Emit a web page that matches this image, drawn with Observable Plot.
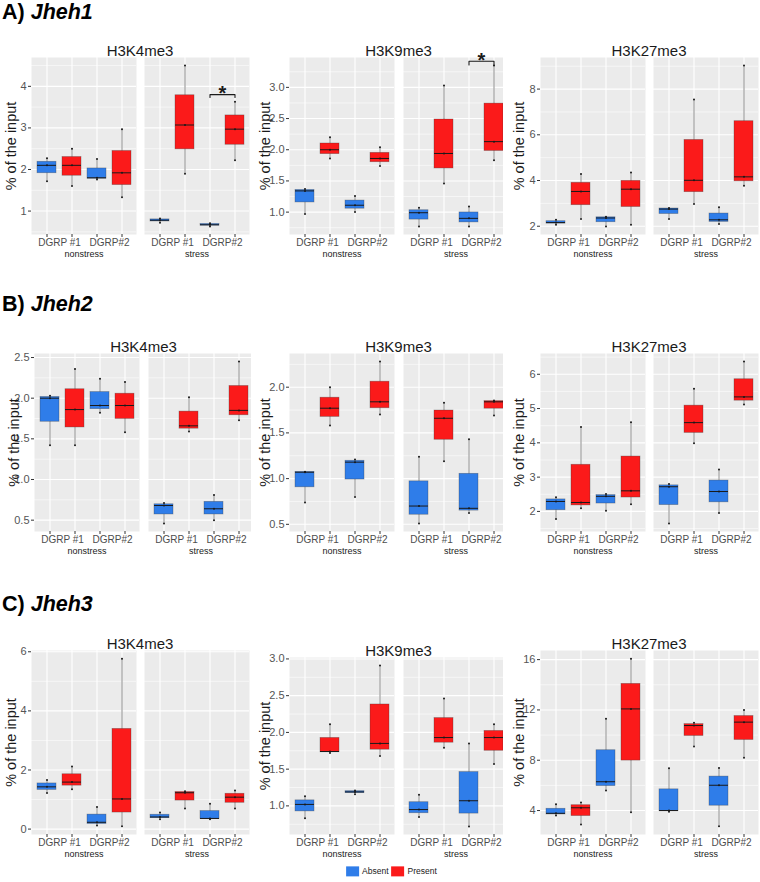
<!DOCTYPE html>
<html>
<head>
<meta charset="utf-8">
<script src="https://cdn.jsdelivr.net/npm/d3@7"></script>
<script src="https://cdn.jsdelivr.net/npm/@observablehq/plot@0.6"></script>
<style>
  body { margin: 0; background: #fff; }
  #root { position: relative; width: 760px; height: 882px; overflow: hidden; background: #fff;
          font-family: "Liberation Sans", Arial, sans-serif; }
  .rowtitle { font-weight: bold; font-size: 21.5px; color: #000; white-space: nowrap; line-height: 1; transform: translateY(-50%); }
  .ptitle { font-size: 15px; color: #1a1a1a; white-space: nowrap; line-height: 1; transform: translate(-50%, -50%); }
  #legend { transform: translate(-50%, -50%); }
  #legend * { font-family: "Liberation Sans", Arial, sans-serif !important; font-size: 8.5px !important; color: #1a1a1a; }
  #legend span { margin-right: 3px !important; }
  #legend svg { margin-right: 3px !important; }
</style>
</head>
<body>
<div id="root"></div>
<script>
// ---------------- data ----------------
const genes = ["Jheh1", "Jheh2", "Jheh3"];
const rowLetters = ["A)", "B)", "C)"];
const histoneMarks = ["H3K4me3", "H3K9me3", "H3K27me3"];
const conditions = ["nonstress", "stress"];
const genotypes = ["DGRP #1", "DGRP#2"];
const presence = ["Absent", "Present"];
const yAxisTitle = "% of the input";

// three replicate values per box; order per panel:
// nonstress [#1 Absent, #1 Present, #2 Absent, #2 Present], stress [same]
const jheh1_H3K4me3 = [[1.72,2.10,2.27],[1.60,2.10,2.50],[1.76,1.80,2.25],[1.33,1.92,2.97],
                       [0.72,0.78,0.82],[1.90,3.07,4.50],[0.63,0.67,0.71],[2.22,2.97,3.63]];
const jheh1_H3K9me3 = [[0.97,1.34,1.37],[1.86,2.00,2.20],[1.00,1.11,1.26],[1.74,1.86,2.04],
                       [0.77,0.99,1.07],[1.46,1.94,3.03],[0.77,0.90,1.09],[1.83,2.13,3.35]];
const jheh1_H3K27me3 = [[2.07,2.16,2.28],[2.32,3.52,4.28],[1.99,2.36,2.42],[2.06,3.62,4.35],
                        [2.32,2.75,2.80],[2.97,4.01,7.54],[2.10,2.28,2.83],[3.77,4.16,9.03]];
const jheh2_H3K4me3 = [[1.42,2.00,2.03],[1.42,1.86,2.36],[1.82,1.91,2.24],[1.58,1.91,2.20],
                       [0.46,0.68,0.71],[1.59,1.66,2.01],[0.50,0.64,0.81],[1.73,1.85,2.45]];
const jheh2_H3K9me3 = [[0.74,1.07,1.075],[1.58,1.77,2.00],[0.80,1.18,1.21],[1.70,1.84,2.28],
                       [0.51,0.70,1.24],[1.19,1.66,1.83],[0.625,0.675,1.43],[1.69,1.84,1.855]];
const jheh2_H3K27me3 = [[1.78,2.29,2.41],[2.09,2.26,4.46],[2.02,2.44,2.51],[2.21,2.60,4.60],
                        [1.65,2.72,2.80],[3.99,4.59,5.58],[1.95,2.58,3.22],[5.12,5.34,6.37]];
const jheh3_H3K4me3 = [[1.22,1.43,1.66],[1.35,1.59,2.12],[0.12,0.23,0.75],[0.10,1.02,5.76],
                       [0.33,0.41,0.56],[0.70,1.23,1.28],[0.33,0.36,0.86],[0.70,1.08,1.31]];
const jheh3_H3K9me3 = [[0.83,1.02,1.13],[1.72,1.74,2.11],[1.16,1.19,1.21],[1.68,1.85,2.91],
                       [0.85,0.95,1.15],[1.79,1.93,2.46],[0.72,1.07,1.85],[1.57,1.93,2.11]];
const jheh3_H3K27me3 = [[3.60,3.78,4.50],[2.90,4.22,4.63],[5.60,6.29,11.30],[3.86,12.08,16.06],
                        [3.90,4.00,7.37],[9.10,10.76,10.98],[2.76,6.01,7.39],[8.19,11.03,12.00]];

const ticksJheh1 = [[1,2,3,4],[1,1.5,2,2.5,3],[2,4,6,8]];
const ticksJheh2 = [[0.5,1,1.5,2,2.5],[0.5,1,1.5,2],[2,3,4,5,6]];
const ticksJheh3 = [[0,2,4,6],[1,1.5,2,2.5,3],[4,8,12,16]];

// significance annotations
const sigGene = ["Jheh1", "Jheh1"];
const sigMark = ["H3K4me3", "H3K9me3"];
const sigCondition = ["stress", "stress"];
const sigGenotype = ["DGRP#2", "DGRP#2"];
const sigBracketY = [3.80, 3.42];
const sigTickEndY = [3.73, 3.36];
const sigStarY = [3.95, 3.51];

// ---------------- layout / styles ----------------
const BLUE = "#2f7de9", RED = "#fb1a1a";
const panelValues = [[jheh1_H3K4me3, jheh1_H3K9me3, jheh1_H3K27me3],
                     [jheh2_H3K4me3, jheh2_H3K9me3, jheh2_H3K27me3],
                     [jheh3_H3K4me3, jheh3_H3K9me3, jheh3_H3K27me3]];
const panelTicks = [ticksJheh1, ticksJheh2, ticksJheh3];
const keys = genotypes.flatMap(g => presence.map(p => g + "|" + p));
const W = 105;
const STEP = W / 4.2;
const rowFrame = [[57, 234], [353, 531], [650, 834]];
const rowTitleY = [13, 305, 605];
const colLayout = [
  {svgLeft: 0, l1: 31, l2: 144, ylab: 20},
  {svgLeft: 251, l1: 289, l2: 403, ylab: 24},
  {svgLeft: 503, l1: 540, l2: 653, ylab: 21}
];
const MT = 14, MB = 32;
const FONT = '"Liberation Sans", Arial, sans-serif';

const root = document.getElementById("root");
function place(el, left, top) {
  el.style.position = "absolute";
  el.style.left = left + "px";
  el.style.top = top + "px";
  root.appendChild(el);
  return el;
}

const overlays = [];

genes.forEach((gene, r) => {
  const rt = document.createElement("div");
  rt.className = "rowtitle";
  rt.innerHTML = rowLetters[r] + " <i>" + gene + "</i>";
  overlays.push([rt, 2, rowTitleY[r]]);

  histoneMarks.forEach((hm, c) => {
    const vals = panelValues[r][c];
    const ticks = panelTicks[r][c];
    const [lo, hi] = d3.extent(vals.flat());
    const pad = (hi - lo) * 0.05;
    const domain = [lo - pad, hi + pad];
    const step = ticks[1] - ticks[0];
    const minor = d3.range(-1, ticks.length).map(i => ticks[0] + (i + 0.5) * step)
      .filter(v => v > domain[0] && v < domain[1]);
    const decimals = ticks.some(t => !Number.isInteger(t));
    const fmt = decimals ? (d => d.toFixed(1)) : (d => String(d));

    const lay = Object.assign({}, colLayout[c]);
    if (r === 1 && c === 0) { lay.l1 = 34; lay.l2 = 148; }
    let [top, bottom] = rowFrame[r];
    if (r === 2 && c === 1) top = 657;
    const fh = bottom - top;

    conditions.forEach((cond, f) => {
      const rows = [];
      vals.slice(f * 4, f * 4 + 4).forEach((trip, b) =>
        trip.forEach(v => rows.push({key: keys[b], presence: presence[b % 2], value: v})));
      const isLeft = f === 0;
      const marginLeft = isLeft ? lay.l1 - lay.svgLeft : 0;
      const marginRight = isLeft ? 0 : 6;
      const left = isLeft ? lay.svgLeft : lay.l2;

      const extra = [];
      sigGene.forEach((g, s) => {
        if (g === gene && sigMark[s] === hm && sigCondition[s] === cond) {
          const kA = sigGenotype[s] + "|" + presence[0];
          const kP = sigGenotype[s] + "|" + presence[1];
          const bracket = [
            {key: kA, y: sigTickEndY[s]}, {key: kA, y: sigBracketY[s]},
            {key: kP, y: sigBracketY[s]}, {key: kP, y: sigTickEndY[s]}
          ];
          extra.push(Plot.line(bracket, {x: "key", y: "y", stroke: "#1a1a1a", strokeWidth: 1.1}));
          extra.push(Plot.text([{key: kA, y: sigStarY[s]}], {
            x: "key", y: "y", text: () => "*", dx: STEP / 2, dy: 5,
            fontSize: 20, fontWeight: "bold", fill: "#1a1a1a"
          }));
        }
      });

      const marks = [
        Plot.frame({fill: "#ebebeb", stroke: "none"}),
        Plot.gridY(minor, {stroke: "white", strokeOpacity: 1, strokeWidth: 0.55}),
        Plot.gridY(ticks, {stroke: "white", strokeOpacity: 1, strokeWidth: 1.1}),
        Plot.gridX(keys, {stroke: "white", strokeOpacity: 1, strokeWidth: 1.1}),
        Plot.axisX(keys, {tickSize: 3, tickPadding: 0, tickFormat: () => "", stroke: "#333", label: null}),
        Plot.axisX([keys[0], keys[2]], {
          tickSize: 0, tickPadding: 4, dx: STEP / 2, fontSize: 10, fill: "#4d4d4d",
          tickFormat: k => k.split("|")[0], label: null
        }),
        Plot.text([cond], {frameAnchor: "bottom", lineAnchor: "middle", textAnchor: "middle",
          dy: 20, fontSize: 9, fill: "#1a1a1a"}),
        Plot.ruleX(rows, Plot.groupX({y1: "min", y2: "max"}, {x: "key", y: "value", stroke: "#8c8c8c", strokeWidth: 1})),
        Plot.barY(rows, Plot.groupX({y1: "p25", y2: "p75"}, {
          x: "key", y: "value", fill: "presence", stroke: "#3a3a3a", strokeOpacity: 0.45, strokeWidth: 0.7
        })),
        Plot.tickY(rows, Plot.groupX({y: "median"}, {x: "key", y: "value", stroke: "#1a1a1a", strokeWidth: 1})),
        Plot.dot(rows, {x: "key", y: "value", r: 1, fill: "#1a1a1a", stroke: "none"}),
        ...extra
      ];
      if (isLeft) {
        marks.push(Plot.axisY(ticks, {
          anchor: "left", tickSize: 3, tickPadding: 2, fontSize: 11, fill: "#555", stroke: "#333",
          tickFormat: fmt, label: null
        }));
        marks.push(Plot.text([yAxisTitle], {
          frameAnchor: "left", textAnchor: "middle", lineAnchor: "middle", rotate: -90,
          dx: -lay.ylab, fontSize: 14.5, fill: "#1a1a1a"
        }));
      }

      const svg = Plot.plot({
        width: marginLeft + W + marginRight,
        height: fh + MT + MB,
        marginLeft, marginRight, marginTop: MT, marginBottom: MB,
        style: {background: "white", fontFamily: FONT, overflow: "visible"},
        x: {type: "band", domain: keys, paddingInner: 0.25, paddingOuter: 0.225},
        y: isLeft ? {domain} : {domain, axis: null},
        color: {domain: presence, range: [BLUE, RED]},
        marks
      });
      place(svg, left, top - MT);
    });

    const pt = document.createElement("div");
    pt.className = "ptitle";
    pt.textContent = hm;
    overlays.push([pt, (lay.l1 + lay.l2 + W) / 2, top - 7]);
  });
});

overlays.forEach(([el, x, y]) => place(el, x, y));

const legendWrap = document.createElement("div");
legendWrap.id = "legend";
legendWrap.appendChild(Plot.legend({
  color: {domain: presence, range: [BLUE, RED]},
  legend: "swatches", swatchWidth: 13, swatchHeight: 10
}));
place(legendWrap, 393, 873);
</script>
</body>
</html>
